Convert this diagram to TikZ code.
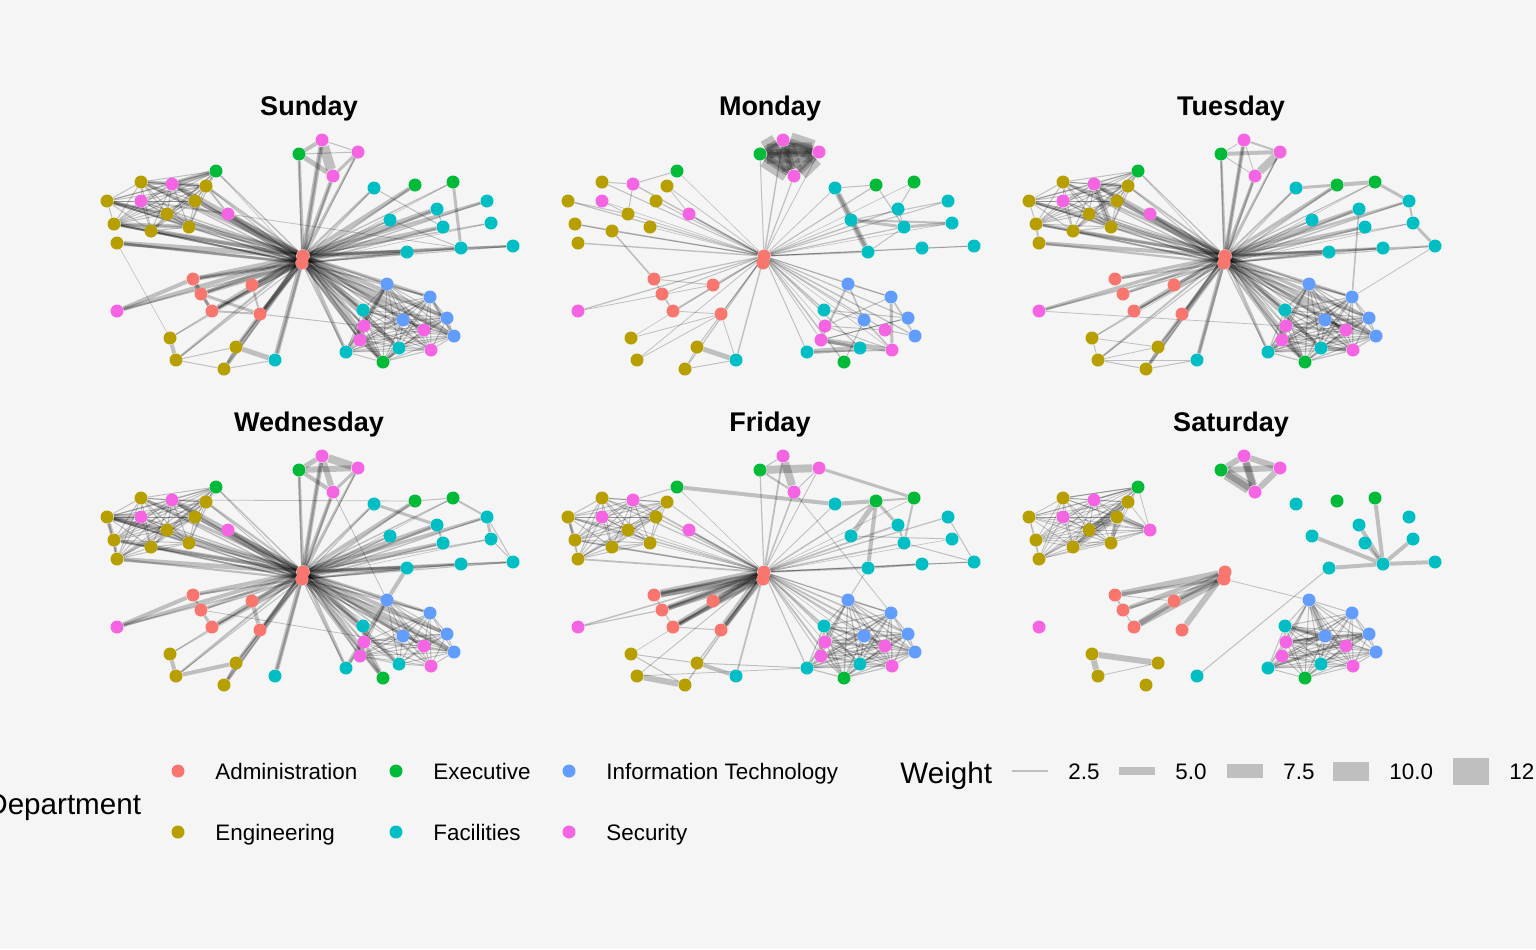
\documentclass[tikz,border=0pt]{standalone}
\usepackage{fontspec}
\setmainfont{Liberation Sans}
\pgfdeclarelayer{bg}
\pgfdeclarelayer{edges}
\pgfsetlayers{bg,edges,main}
\definecolor{adm}{HTML}{F8766D}
\definecolor{eng}{HTML}{B79F00}
\definecolor{exe}{HTML}{00BA38}
\definecolor{fac}{HTML}{00BFC4}
\definecolor{itc}{HTML}{619CFF}
\definecolor{sec}{HTML}{F564E3}
\definecolor{panel}{HTML}{F5F5F5}
\tikzset{%
  dot/.style      = {circle, draw=none, inner sep=0pt, minimum size=6.5pt},%
  edge/.style     = {draw=black, opacity=0.22},%
  keybar/.style   = {rectangle, draw=none, fill=black, fill opacity=0.22,%
                     inner sep=0pt, minimum width=18pt},%
  daytitle/.style = {font=\fontsize{13.5}{16}\selectfont\bfseries},%
  keytext/.style  = {font=\fontsize{11.2}{13}\selectfont, anchor=base west, inner sep=0pt},%
  keytitle/.style = {font=\fontsize{14.8}{17}\selectfont, anchor=base west, inner sep=0pt}%
}
\def\allnodes{t1,t2,t3,t4,l1,l2,l3,l4,l5,l6,l7,l8,l9,l10,l11,l12,l13,%
r1,r2,r3,r4,r5,r6,r7,r8,r9,r10,r11,a1,a2,a3,a4,a5,a6,a7,a8,a9,a10,a11,%
b1,b2,b3,b4,b5,b6,b7,b8,b9,b10,b11,b12,b13}
% staff of one day, hub at (#2,#3)
\newcommand\placestaff[4]{%
  \begin{scope}[shift={(#2,#3)}]
    \node[daytitle] (#1-title) at (6,-150) {#4};
    \foreach \nm/\px/\py/\dep in {h/0/-3/adm, h2/-1/4/adm,
      t1/-4/-105/exe, t2/19/-119/sec, t3/55/-107/sec, t4/30/-83/sec,
      l1/-87/-88/exe, l2/-162/-77/eng, l3/-131/-75/sec, l4/-97/-73/eng,
      l5/-196/-58/eng, l6/-162/-58/sec, l7/-108/-58/eng, l8/-75/-45/sec,
      l9/-136/-45/eng, l10/-189/-35/eng, l11/-114/-32/eng, l12/-152/-28/eng,
      l13/-186/-16/eng,
      r1/71/-71/fac, r2/112/-74/exe, r3/150/-77/exe, r4/184/-58/fac,
      r5/134/-50/fac, r6/87/-39/fac, r7/140/-32/fac, r8/188/-36/fac,
      r9/158/-11/fac, r10/104/-7/fac, r11/210/-13/fac,
      a1/-110/20/adm, a2/-51/26/adm, a3/-102/35/adm, a4/-91/52/adm,
      a5/-43/55/adm, a6/-186/52/sec, a7/-133/79/eng, a8/-67/88/eng,
      a9/-28/101/fac, a10/-127/101/eng, a11/-79/110/eng,
      b1/84/25/itc, b2/127/38/itc, b3/60/51/fac, b4/100/61/itc,
      b5/144/59/itc, b6/61/67/sec, b7/121/71/sec, b8/151/77/itc,
      b9/57/81/sec, b10/96/89/fac, b11/128/91/sec, b12/43/93/fac,
      b13/80/103/exe}
      \node[dot, fill=\dep] (#1-\nm) at (\px,\py) {};
  \end{scope}}
% hub #2 to everybody
\newcommand\hubfan[4]{%
  \foreach \n [count=\i] in \allnodes {%
    \pgfmathsetmacro\w{#3+mod(\i*7,5)*#4}
    \draw[edge, line width=\w pt] (#1-#2) -- (#1-\n);}}
% every pair of a group
\newcommand\clique[3]{%
  \foreach \u [count=\i] in {#2}{%
    \foreach \v [count=\j] in {#2}{%
      \ifnum\j>\i \draw[edge, line width=#3] (#1-\u) -- (#1-\v);\fi}}}
% single links
\newcommand\links[2]{%
  \foreach \u/\v/\w in {#2}
    \draw[edge, line width=\w pt] (#1-\u) -- (#1-\v);}

\begin{document}
\begin{tikzpicture}[x=0.5pt,y=-0.5pt]
  \useasboundingbox (0,0) rectangle (1536,949);
  \begin{pgfonlayer}{bg}
    \fill[panel] (0,0) rectangle (1536,949);
  \end{pgfonlayer}

  \placestaff{su}{303}{259}{Sunday}
  \placestaff{mo}{764}{259}{Monday}
  \placestaff{tu}{1225}{259}{Tuesday}
  \placestaff{we}{303}{575}{Wednesday}
  \placestaff{fr}{764}{575}{Friday}
  \placestaff{sa}{1225}{575}{Saturday}

  \begin{pgfonlayer}{edges}
    % Sunday
    \hubfan{su}{h}{0.7}{0.45}
    \hubfan{su}{h2}{0.3}{0.2}
    \links{su}{h2/a1/2, h2/a2/1.5, h2/a3/2, h2/a4/1.5, h2/a5/2, h2/b6/1,
      h2/b9/1, h2/l10/1, h2/l13/1.5}
    \clique{su}{l1,l2,l3,l4,l5,l6,l7,l9,l10,l11,l12}{0.5pt}
    \clique{su}{b1,b2,b3,b4,b5,b6,b7,b8,b9,b10,b11,b12,b13}{0.5pt}
    \links{su}{t1/t2/2, t1/t3/0.5, t1/t4/2.5, t2/t4/5, t3/t4/1.5, t2/t3/0.5,
      l2/l4/2, l3/l1/2.5, l5/l9/1.5, l10/l11/2, l6/l8/1, l4/l8/1,
      a6/a1/2, a1/a3/2.5, a1/a4/1.5, a3/a4/1.5, a3/a5/1.5, a2/a5/1,
      a4/a5/1, a5/b6/0.5, l13/a7/0.3, l8/r9/0.4, a7/a10/2, a10/a11/0.5,
      a10/a8/0.5, a8/a9/2.5, a11/a8/1, a11/a9/0.5, r1/r7/0.5, r3/r9/1.5,
      r9/r11/1, r6/r9/0.5, r5/r7/0.5, b1/b12/2, b13/b10/2, b9/b13/1.5,
      b2/b8/1.5}
    % Monday
    \hubfan{mo}{h}{0.3}{0.1}
    \clique{mo}{t1,t2,t3,t4}{10pt}
    \clique{mo}{t1,t2,t3,t4}{4pt}
    \clique{mo}{t1,t2,t3,t4}{1.5pt}
    \links{mo}{r1/r10/3, r1/r10/1.5, r6/r7/1.5, r6/r8/1, r7/r8/1.5,
      r5/r7/0.5, r2/r7/0.5, r3/r5/0.5, r4/r6/0.5, r9/r11/0.5, r10/r7/0.5,
      r1/r2/0.5, l2/l3/0.5, l3/l1/0.5, l3/l9/0.5, l5/l9/0.5, l10/l12/0.5,
      l12/a1/0.8, l4/l8/0.4, l6/l9/0.4, a1/a3/0.5, a3/a4/0.8, a1/a2/0.5,
      a6/a2/0.4, a4/a5/0.4, a7/a5/0.4, a10/a5/0.4, a8/a9/2.5, a11/a9/0.5,
      a11/a8/0.4, a9/a5/0.4, b1/b2/0.5, b1/b9/1, b1/b4/0.8, b2/b11/1.5,
      b2/b8/0.8, b9/b11/2.5, b9/b10/1.5, b12/b10/2.5, b12/b11/0.8,
      b3/b4/0.5, b6/b7/0.5, b4/b11/0.8, b5/b9/0.5, b6/b2/0.5, b4/b13/0.5,
      b7/b8/0.5, b3/b5/0.5, b9/b5/0.5, b6/b11/0.5}
    % Tuesday
    \hubfan{tu}{h}{0.6}{0.35}
    \hubfan{tu}{h2}{0.3}{0.2}
    \clique{tu}{l1,l2,l3,l4,l5,l6,l7,l9,l10,l11,l12}{0.5pt}
    \clique{tu}{b1,b2,b3,b4,b5,b6,b7,b8,b9,b10,b11,b12,b13}{0.6pt}
    \links{tu}{t1/t2/0.4, t1/t3/2, t2/t3/1, t3/t4/4, t2/t4/0.4, t1/t4/0.4,
      r1/r2/1.5, r2/r3/2, r3/r4/1.5, r4/r8/1, r8/r11/1.5, r5/b2/0.8,
      r11/b2/0.4, a6/b6/0.4, l13/l10/1, l3/l4/2, l3/l11/3, a7/a10/0.5,
      a10/a11/0.5, a7/a8/0.4, a10/a9/0.5, a10/a8/0.4, a11/a9/0.5,
      a11/a8/0.5, b12/b9/2, b9/b13/1.5, b10/b11/2, b4/b7/2}
    % Wednesday
    \hubfan{we}{h}{0.7}{0.4}
    \hubfan{we}{h2}{0.3}{0.2}
    \clique{we}{l1,l2,l3,l4,l5,l6,l7,l9,l10,l11,l12,l13}{0.5pt}
    \clique{we}{b1,b2,b4,b5,b6,b7,b8,b9,b10,b11}{0.5pt}
    \links{we}{t1/t2/2.5, t2/t3/4, t1/t3/3, t1/t4/2, t2/t4/3, t3/t4/1.5,
      l3/r2/0.4, r10/b1/2, b1/b12/2, t4/b1/0.4, l5/l6/3, l5/l9/2,
      l5/l10/2, l10/l13/1.5, r1/r5/1.5, r5/r7/1, r4/r8/1.5, r8/r11/0.5,
      r4/r11/0.5, r3/r4/1, r2/r3/0.5, r9/r11/0.5, a2/a5/2, a1/a3/1,
      a3/a4/1.5, a6/a1/2, a3/b8/0.4, a7/a10/2, a10/a8/2, a8/a11/1,
      b3/b6/1.5, b6/b13/2, b12/b6/1}
    % Friday
    \hubfan{fr}{h}{0.3}{0.15}
    \links{fr}{h/a1/4, h/a3/3, h/a4/3, h/a2/2.5, h/a5/3.5, h2/a1/3,
      h2/a4/2, h2/a5/2, h2/a3/2, h/a1/1.5, h/a3/1.5, h2/a4/1}
    \clique{fr}{l2,l3,l4,l5,l6,l7,l9,l10,l11,l12,l13}{0.5pt}
    \clique{fr}{b1,b2,b3,b4,b5,b6,b7,b8,b9,b10,b11,b12,b13}{0.6pt}
    \links{fr}{t1/t3/4, t2/t4/4, t1/t2/0.5, t1/t4/1, t3/t4/0.5, l1/r1/2,
      t3/r3/1.5, r1/r2/2, r2/r3/1, r2/r6/2.5, r2/r10/2, r2/r5/1.5,
      r3/r7/1, r5/r7/1, r6/r8/0.5, r7/r11/0.5, r4/r11/0.5, r10/r9/1,
      r9/r11/0.5, r10/b1/0.5, a6/a3/0.6, a7/a8/0.5, a7/a11/0.5,
      a10/a11/3, a8/a9/2, a10/b12/0.4, a8/b12/0.5, a4/a5/0.5, a1/a4/0.5,
      l1/l3/0.5, l5/l10/1.5, t4/b2/0.4}
    % Saturday
    \links{sa}{h/a1/3, h/a2/2.5, h/a3/2, h/a5/3, h2/a1/1.5, h2/a4/3,
      h2/a2/1.5, h2/a3/1, h2/b1/0.4, a9/r10/0.5, a1/a3/1, a1/a2/0.4,
      a3/a4/0.5, a4/a2/3, a7/a8/3, a7/a10/3, a10/a8/0.4, r9/r6/2,
      r9/r3/2, r9/r5/2, r9/r7/1.5, r9/r8/2, r9/r11/2, r9/r10/2}
    \clique{sa}{t1,t2,t3,t4}{3pt}
    \links{sa}{t1/t4/6, t2/t4/4}
    \clique{sa}{l1,l2,l3,l4,l5,l6,l7,l8,l9,l10,l11,l12,l13}{0.4pt}
    \links{sa}{l4/l9/3, l7/l12/3, l7/l11/2, l8/l7/2.5, l2/l1/0.6, l3/l1/0.6}
    \clique{sa}{b1,b2,b3,b4,b5,b6,b7,b8,b9,b10,b11,b12,b13}{0.5pt}
    \links{sa}{b1/b4/3, b3/b4/2.5, b5/b6/2, b4/b6/0.8, b12/b5/1.5}
  \end{pgfonlayer}

  % legend: departments
  \node[keytitle] (deptitle) at (-14,814) {Department};
  \foreach \nm/\lab/\px/\py/\dep in {ad/Administration/178/771/adm,
      en/Engineering/178/832/eng, ex/Executive/396/771/exe,
      fa/Facilities/396/832/fac, it/Information Technology/569/771/itc,
      se/Security/569/832/sec}{
    \node[dot, fill=\dep] (key-\nm) at (\px,\py) {};
    \node[keytext] (lab-\nm) at (\px+37,\py+8) {\lab};}
  % legend: weight
  \node[keytitle] (wtitle) at (900,783) {Weight};
  \foreach \val/\kx/\kh [count=\i] in {2.5/1012/1.5, 5.0/1119/7.5,
      7.5/1227/14, 10.0/1333/19, 12.5/1453/27}{
    \node[keybar, minimum height=\kh*0.5pt] (wkey-\i) at (\kx+18,771) {};
    \node[keytext] (wlab-\i) at (\kx+56,779) {\val};}
\end{tikzpicture}
\end{document}
